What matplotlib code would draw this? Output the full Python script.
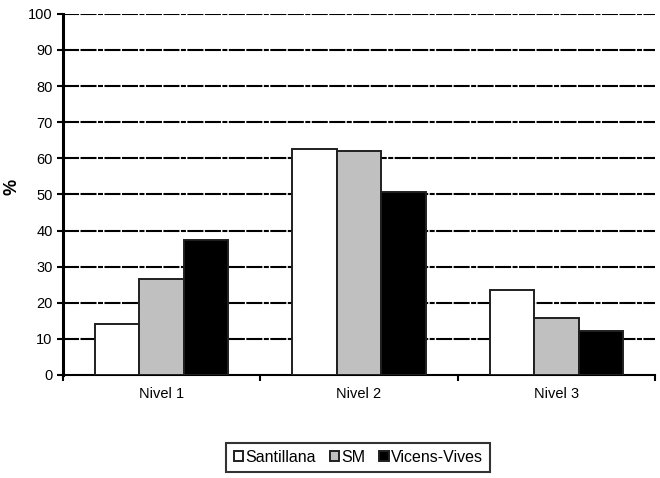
import matplotlib.pyplot as plt
import numpy as np

plt.rcParams['font.family'] = ['Liberation Sans', 'DejaVu Sans']

niveles = ['Nivel 1', 'Nivel 2', 'Nivel 3']
editoriales = ['Santillana', 'SM', 'Vicens-Vives']
santillana = [14.0, 62.5, 23.4]
sm = [26.6, 62.1, 15.9]
vicens = [37.4, 50.8, 12.1]
yticks = list(range(0, 101, 10))

series = [santillana, sm, vicens]
colores = ['white', '#c0c0c0', 'black']

fig = plt.figure(figsize=(6.6, 4.78), dpi=100)
ax = fig.add_axes([0.0955, 0.2155, 0.897, 0.7555])

x = np.arange(len(niveles))
w = 0.225
for i, (vals, c) in enumerate(zip(series, colores)):
    ax.bar(x + (i - 1) * w, vals, w, color=c, edgecolor='#202020', linewidth=1.4,
           label=editoriales[i], zorder=3)

ax.set_xlim(-0.5, 2.5)
ax.set_ylim(0, 100)
ax.set_yticks(yticks)
ax.tick_params(axis='y', labelsize=10.5, length=4.5, width=1.5, pad=3)
ax.set_xticks(x)
ax.set_xticklabels(niveles, fontsize=10.5)
ax.tick_params(axis='x', length=0, pad=8.5)
ax.set_xticks([-0.5, 0.5, 1.5, 2.5], minor=True)
ax.tick_params(axis='x', which='minor', length=4.5, width=1.5)

# lineas de referencia punto-raya
for yv in yticks[1:]:
    ax.axhline(yv, color='black', linewidth=1.5,
               linestyle=(0, (7.7, 0.7, 7.7, 0.7, 2.4, 0.7)), zorder=1)

ax.spines['top'].set_visible(False)
ax.spines['right'].set_visible(False)
ax.spines['left'].set_linewidth(2.2)
ax.spines['bottom'].set_linewidth(1.5)

fig.text(12 / 660, 1 - 187 / 478, '%', fontsize=13, fontweight='bold',
         rotation=90, ha='center', va='center')

leg = ax.legend(loc='center', bbox_to_anchor=(0.499, -0.2285), ncol=3, fontsize=11.5,
                frameon=True, fancybox=False, edgecolor='black',
                handlelength=0.6, handleheight=0.6, handletextpad=0.15,
                columnspacing=0.85, borderpad=0.45, borderaxespad=0)
leg.get_frame().set_linewidth(1.5)

fig.savefig('out.png', dpi=100)
